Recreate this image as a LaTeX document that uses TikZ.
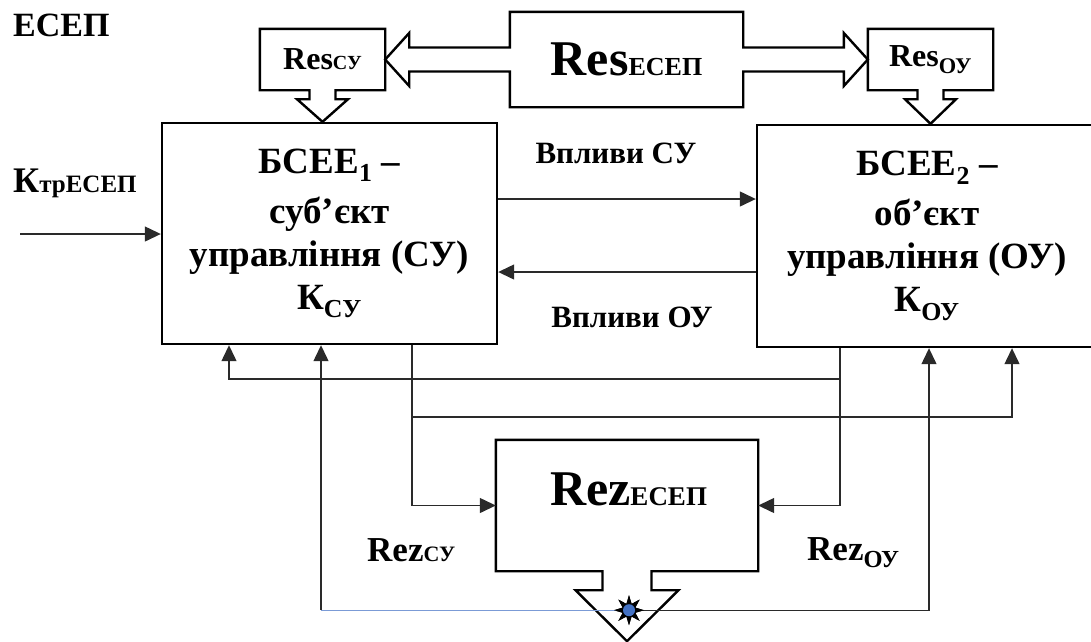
\documentclass[tikz,border=0pt]{standalone}
\usepackage{fontspec}
\setmainfont{Liberation Serif}
\usetikzlibrary{calc,arrows.meta,shapes.geometric}
\definecolor{lnk}{HTML}{2A2A2A}
\definecolor{blu}{HTML}{7B9BD6}
\definecolor{dot}{HTML}{4472C4}
\newcommand{\fs}[2]{{\fontsize{#1}{#1}\selectfont #2}}
\tikzset{
  blk/.style={draw, line width=2.4pt, align=center, inner sep=0pt},
  outl/.style={draw, line width=2.4pt, line join=miter},
  ln/.style={draw=lnk, line width=1.3pt},
  arr/.style={ln, -{Triangle[length=16pt, width=15pt]}},
  lbl/.style={inner sep=0pt}}

\begin{document}
\begin{tikzpicture}[x=1pt, y=-1pt, font=\bfseries]
\useasboundingbox (0,0) rectangle (1091,641);
\node[lbl, anchor=base west, font=\bfseries\fontsize{34}{34}\selectfont] (ttl) at (13,36) {ЕСЕП};
\node[blk, minimum width=335, minimum height=221, font=\bfseries\fontsize{37}{43}\selectfont]
  (b1) at (329.5,233.5) {БСЕЕ\textsubscript{1} –\\[7pt] суб’єкт\\ управління (СУ)\\ К\textsubscript{СУ}};
\node[blk, minimum width=340, minimum height=222, font=\bfseries\fontsize{37}{43}\selectfont]
  (b2) at (927,236) {БСЕЕ\textsubscript{2} –\\[7pt] об’єкт\\ управління (ОУ)\\ К\textsubscript{ОУ}};
\node[lbl, minimum width=125, minimum height=61, font=\bfseries\fontsize{32}{32}\selectfont]
  (rcy) at (322.5,59.5) {Res\fs{20}{СУ}};
\node[lbl, minimum width=125, minimum height=61, font=\bfseries\fontsize{32}{32}\selectfont]
  (roy) at (930.5,59.5) {Res\textsubscript{ОУ}};
\node[lbl, minimum width=233, minimum height=95, font=\bfseries\fontsize{50}{50}\selectfont]
  (rese) at (626.5,59.5) {Res\fs{26}{ЕСЕП}};
\node[lbl, minimum width=262, minimum height=131] (rez) at (627,505.5) {};
\node[lbl, anchor=base, font=\bfseries\fontsize{50}{50}\selectfont] (rzt) at ($(rez.center)+(1.5,-0.5)$) {Rez\fs{27}{ЕСЕП}};
\draw[outl] (rcy.north west) -- (rcy.north east) -- (rcy.south east) -- ($(rcy.south)+(13,0)$) -- ++(0,9) -- ++(12.5,0)
  -- (rcy.south |- b1.north) -- ($(rcy.south)+(-25.5,9)$) -- ++(12.5,0) -- ++(0,-9) -- (rcy.south west) -- cycle;
\draw[outl] (roy.north west) -- (roy.north east) -- (roy.south east) -- ($(roy.south)+(13,0)$) -- ++(0,9) -- ++(12.5,0)
  -- (roy.south |- b2.north) -- ($(roy.south)+(-25.5,9)$) -- ++(12.5,0) -- ++(0,-9) -- (roy.south west) -- cycle;
\draw[outl] (rese.north west) -- (rese.north east) -- ($(rese.east)+(0,-12)$) -- ($(roy.west)+(-24,-12)$) -- ++(0,-14.5)
  -- (roy.west) -- ($(roy.west)+(-24,26.5)$) -- ++(0,-14.5) -- ($(rese.east)+(0,12)$) -- (rese.south east)
  -- (rese.south west) -- ($(rese.west)+(0,12)$) -- ($(rcy.east)+(24,12)$) -- ++(0,14.5) -- (rcy.east)
  -- ($(rcy.east)+(24,-26.5)$) -- ++(0,14.5) -- ($(rese.west)+(0,-12)$) -- cycle;
\draw[outl] (rez.south west) -- (rez.north west) -- (rez.north east) -- (rez.south east) -- ($(rez.south)+(24.5,0)$)
  -- ++(0,19) -- ++(27,0) -- ($(rez.south)+(0,70)$) -- ($(rez.south)+(-51.5,19)$) -- ++(27,0) -- ++(0,-19) -- cycle;
\node[lbl, anchor=base west, font=\bfseries\fontsize{36}{36}\selectfont] (ktr) at (13,192) {К\fs{25}{трЕСЕП}};
\coordinate (kin) at (20,234);
\draw[arr] (kin) -- (b1.west |- kin);
\node[lbl, anchor=base, font=\bfseries\fontsize{31}{31}\selectfont] (vsu) at (616,163) {Впливи СУ};
\node[lbl, anchor=base, font=\bfseries\fontsize{31}{31}\selectfont] (vou) at (632,327) {Впливи ОУ};
\draw[arr] (b1.east |- 0,199) -- (b2.west |- 0,199);
\draw[arr] (b2.west |- 0,272) -- (b1.east |- 0,272);
\draw[arr] (b2.south -| 840,0) |- (rez.east);
\draw[arr] (840,379) -| (b1.south -| 229,0);
\draw[arr] (b1.south -| 412,0) |- (rez.west);
\draw[arr] (412,417) -| (b2.south -| 1012,0);
\node[lbl, anchor=base west, font=\bfseries\fontsize{35}{35}\selectfont] (rzs) at (367,561) {Rez\fs{22}{СУ}};
\node[lbl, anchor=base west, font=\bfseries\fontsize{35}{35}\selectfont] (rzo) at (807,560) {Rez\textsubscript{ОУ}};
\node[star, star points=8, star point ratio=2.2, fill=black, minimum size=30, inner sep=0pt] (star) at ($(rez.south)+(2,39)$) {};
\draw[ln, draw=blu] (star.center) -- (star -| 321,0);
\draw[arr] (star -| 321,0) -- (b1.south -| 321,0);
\draw[arr] (star.center) -| (b2.south -| 929,0);
\node[star, star points=8, star point ratio=2.2, fill=black, minimum size=30, inner sep=0pt] at (star) {};
\fill[dot] (star.center) circle (6);
\end{tikzpicture}
\end{document}
